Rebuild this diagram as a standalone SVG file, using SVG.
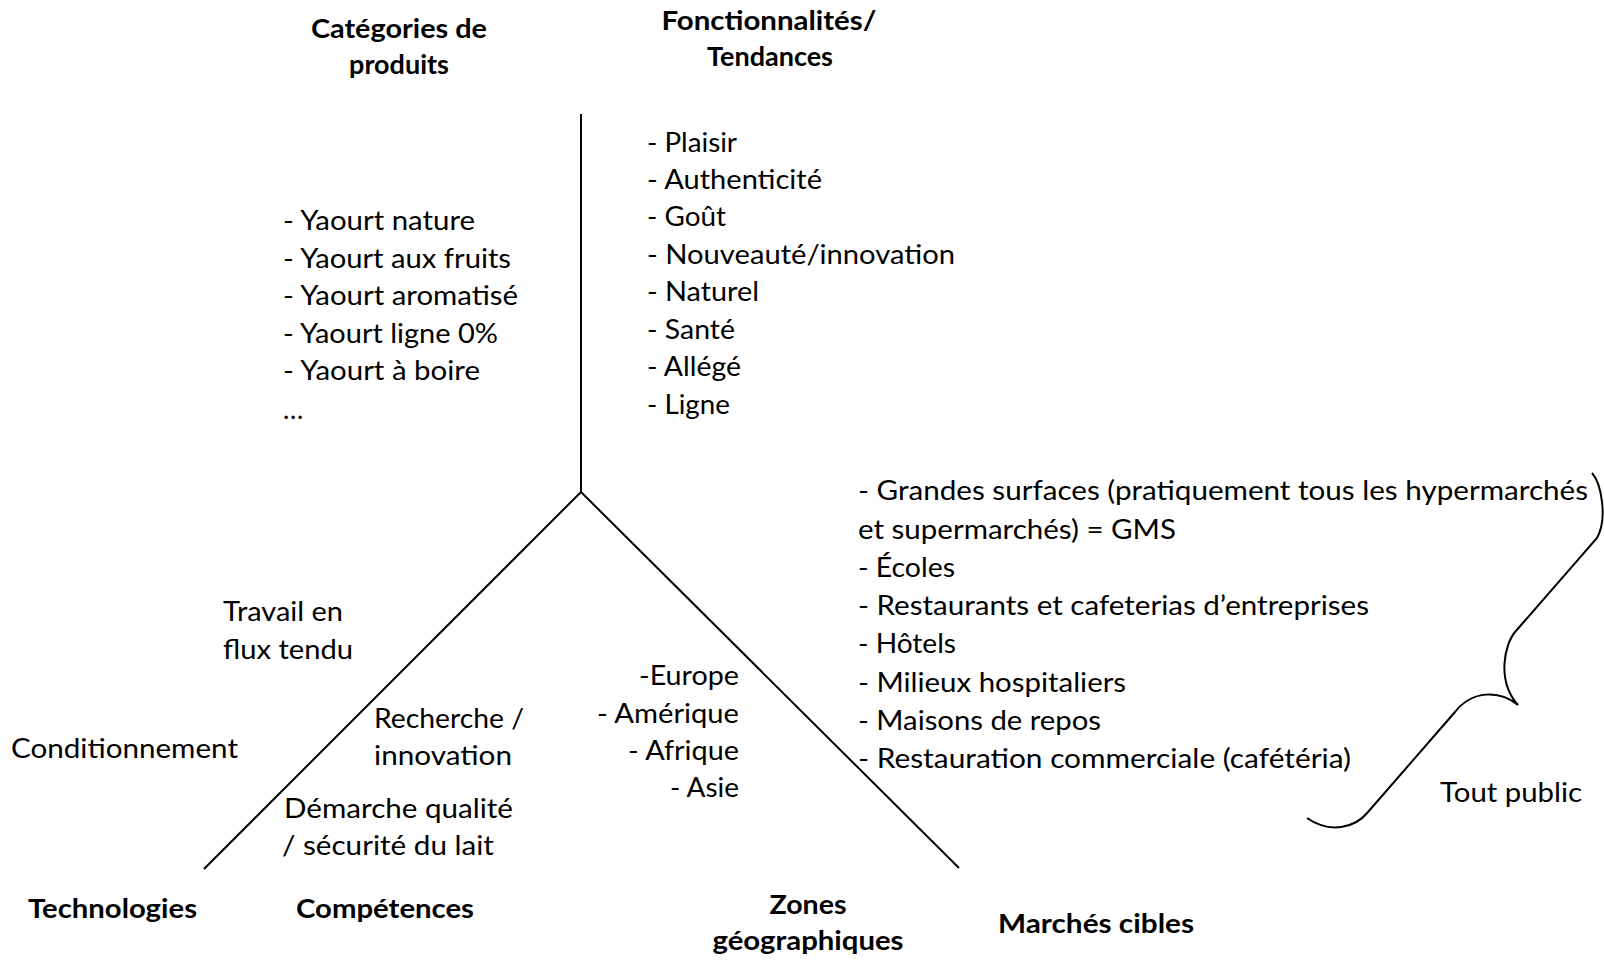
<svg xmlns="http://www.w3.org/2000/svg" width="1604" height="960" viewBox="0 0 1604 960">
  <style>
    text { font-family: Lato, "Open Sans", "Liberation Sans", sans-serif; font-size: 27px; fill: #000; }
    .h { font-weight: bold; text-anchor: middle; }
    .hl { font-weight: bold; }
    .r { text-anchor: end; }
    .ax { stroke: #000; stroke-width: 2; fill: none; stroke-linecap: butt; }
  </style>
  <rect width="1604" height="960" fill="#fff"/>

  <!-- axes of the star diagram and the brace -->
  <g id="connectors">
    <line class="ax" x1="581" y1="114" x2="581" y2="492"/>
    <line class="ax" x1="581" y1="492" x2="204" y2="869"/>
    <line class="ax" x1="581" y1="492" x2="959" y2="868"/>
    <path class="ax" d="M1592,473 C1601,483 1608,518 1597,538 L1515,632 C1505,644 1496,680 1518,705 C1500,690 1472,690 1455,712 L1368,812 C1355,828 1330,834 1307,818"/>
  </g>

  <g id="categories">
    <text class="h" x="399" y="38" textLength="176" lengthAdjust="spacingAndGlyphs">Catégories de</text>
    <text class="h" x="399" y="74">produits</text>
    <text x="283" y="230" textLength="192" lengthAdjust="spacingAndGlyphs">- Yaourt nature</text>
    <text x="283" y="268" textLength="228" lengthAdjust="spacingAndGlyphs">- Yaourt aux fruits</text>
    <text x="283" y="305" textLength="235" lengthAdjust="spacingAndGlyphs">- Yaourt aromatisé</text>
    <text x="283" y="343" textLength="215" lengthAdjust="spacingAndGlyphs">- Yaourt ligne 0%</text>
    <text x="283" y="380" textLength="197" lengthAdjust="spacingAndGlyphs">- Yaourt à boire</text>
    <text x="283" y="419">…</text>
  </g>

  <g id="fonctionnalites">
    <text class="h" x="769" y="30" textLength="215" lengthAdjust="spacingAndGlyphs">Fonctionnalités/</text>
    <text class="h" x="770" y="66">Tendances</text>
    <text x="647" y="152" textLength="90" lengthAdjust="spacingAndGlyphs">- Plaisir</text>
    <text x="647" y="189" textLength="175" lengthAdjust="spacingAndGlyphs">- Authenticité</text>
    <text x="647" y="226" textLength="79" lengthAdjust="spacingAndGlyphs">- Goût</text>
    <text x="647" y="264" textLength="308" lengthAdjust="spacingAndGlyphs">- Nouveauté/innovation</text>
    <text x="647" y="301" textLength="112" lengthAdjust="spacingAndGlyphs">- Naturel</text>
    <text x="647" y="339" textLength="88" lengthAdjust="spacingAndGlyphs">- Santé</text>
    <text x="647" y="376" textLength="94" lengthAdjust="spacingAndGlyphs">- Allégé</text>
    <text x="647" y="414" textLength="83" lengthAdjust="spacingAndGlyphs">- Ligne</text>
  </g>

  <g id="marches">
    <text x="858" y="500" textLength="730" lengthAdjust="spacingAndGlyphs">- Grandes surfaces (pratiquement tous les hypermarchés</text>
    <text x="858" y="539" textLength="318" lengthAdjust="spacingAndGlyphs">et supermarchés) = GMS</text>
    <text x="858" y="577" textLength="97" lengthAdjust="spacingAndGlyphs">- Écoles</text>
    <text x="858" y="615" textLength="511" lengthAdjust="spacingAndGlyphs">- Restaurants et cafeterias d’entreprises</text>
    <text x="858" y="653" textLength="98" lengthAdjust="spacingAndGlyphs">- Hôtels</text>
    <text x="858" y="692" textLength="268" lengthAdjust="spacingAndGlyphs">- Milieux hospitaliers</text>
    <text x="858" y="730" textLength="243" lengthAdjust="spacingAndGlyphs">- Maisons de repos</text>
    <text x="858" y="768" textLength="493" lengthAdjust="spacingAndGlyphs">- Restauration commerciale (cafétéria)</text>
    <text x="1440" y="802" textLength="142" lengthAdjust="spacingAndGlyphs">Tout public</text>
    <text class="hl" x="998" y="933" textLength="196" lengthAdjust="spacingAndGlyphs">Marchés cibles</text>
  </g>

  <g id="zones">
    <text class="r" x="739" y="685" textLength="100" lengthAdjust="spacingAndGlyphs">-Europe</text>
    <text class="r" x="739" y="723" textLength="142" lengthAdjust="spacingAndGlyphs">- Amérique</text>
    <text class="r" x="739" y="760" textLength="111" lengthAdjust="spacingAndGlyphs">- Afrique</text>
    <text class="r" x="739" y="797" textLength="69" lengthAdjust="spacingAndGlyphs">- Asie</text>
    <text class="h" x="808" y="914" textLength="77" lengthAdjust="spacingAndGlyphs">Zones</text>
    <text class="h" x="808" y="950" textLength="191" lengthAdjust="spacingAndGlyphs">géographiques</text>
  </g>

  <g id="competences">
    <text x="374" y="728" textLength="150" lengthAdjust="spacingAndGlyphs">Recherche /</text>
    <text x="374" y="765" textLength="138" lengthAdjust="spacingAndGlyphs">innovation</text>
    <text x="284" y="818" textLength="229" lengthAdjust="spacingAndGlyphs">Démarche qualité</text>
    <text x="282" y="855" textLength="212" lengthAdjust="spacingAndGlyphs">/ sécurité du lait</text>
    <text class="hl" x="296" y="918" textLength="178" lengthAdjust="spacingAndGlyphs">Compétences</text>
  </g>

  <g id="technologies">
    <text x="223" y="621" textLength="120" lengthAdjust="spacingAndGlyphs">Travail en</text>
    <text x="223" y="659" textLength="130" lengthAdjust="spacingAndGlyphs">flux tendu</text>
    <text x="11" y="758" textLength="227" lengthAdjust="spacingAndGlyphs">Conditionnement</text>
    <text class="hl" x="28" y="918" textLength="169" lengthAdjust="spacingAndGlyphs">Technologies</text>
  </g>
</svg>
